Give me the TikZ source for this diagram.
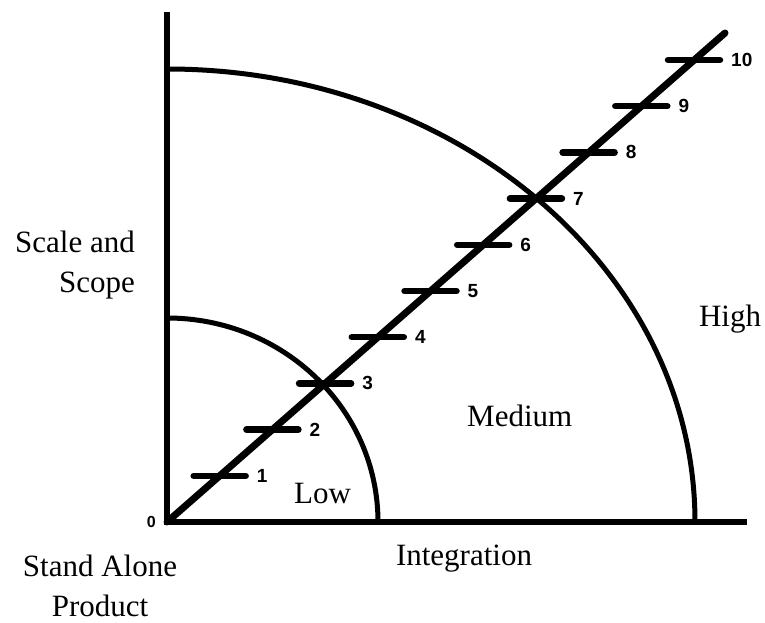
\documentclass[tikz,border=0pt]{standalone}
\usepackage{fontspec}
\setmainfont{Liberation Serif}
\newfontfamily\numfont{Liberation Sans}
\usetikzlibrary{positioning}
\tikzset{axisline/.style={line width=5.5pt},zone/.style={line width=5pt},ray/.style={line width=7pt,line cap=round},
notch/.style={line width=6.5pt,line cap=round},lbl/.style={font=\fontsize{31}{40}\selectfont,inner sep=0pt},
num/.style={font=\numfont\bfseries\fontsize{19}{21}\selectfont,inner sep=0pt}}
\begin{document}
\begin{tikzpicture}[x=1pt,y=1pt]
\useasboundingbox (-167,-101) rectangle (598,522);
\coordinate (O) at (0,0);\coordinate (ytop) at (0,510);\coordinate (xend) at (580,0);\coordinate (rend) at (558,489);
\draw[axisline] (ytop)--(O)--(xend);
% zones
\draw[zone] (0,453) arc[start angle=90,end angle=0,x radius=528pt,y radius=453pt];
\draw[zone] (0,204) arc[start angle=90,end angle=0,x radius=211pt,y radius=204pt];
\draw[ray] (O)--(rend);
\foreach \k in {1,...,10}{\coordinate (t\k) at ({52.7*\k},{46.2*\k});
\draw[notch] ([xshift=-26pt]t\k)--([xshift=26pt]t\k);\node[num,anchor=west] (n\k) at ([xshift=37pt]t\k) {\k};}
\node[num,font=\numfont\bfseries\fontsize{16}{18}\selectfont,anchor=east] (n0) at (-11,0) {0};
% labels
\node[lbl,align=right,anchor=east] (scale) at (-32,257) {Scale and\\Scope};
\node[lbl,align=center] (alone) at (-67,-64) {Stand Alone\\Product};
\node[lbl,anchor=base west] (low) at (127,18) {Low};
\node[lbl,anchor=base west] (med) at (300,95) {Medium};
\node[lbl,anchor=base] (integ) at (297,-43) {Integration};
\node[lbl,anchor=base] (high) at (563,195) {High};
\end{tikzpicture}
\end{document}
